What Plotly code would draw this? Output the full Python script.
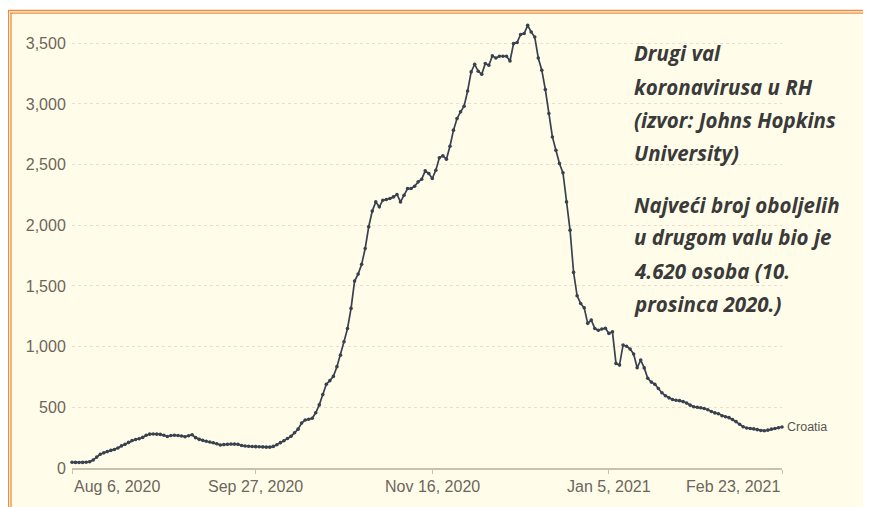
import pandas as pd
import plotly.graph_objects as go

# ---- data ----
start_date = "2020-08-06"
croatia_values = [
    47, 46, 45, 46, 48, 52, 66, 90, 113, 125,
    135, 145, 152, 165, 182, 195, 211, 226, 235, 241,
    252, 270, 279, 280, 279, 277, 270, 260, 268, 270,
    268, 264, 258, 266, 274, 250, 236, 228, 220, 214,
    208, 200, 190, 193, 196, 198, 197, 195, 186, 181,
    179, 177, 176, 175, 174, 172, 172, 178, 192, 209,
    225, 243, 262, 290, 320, 370, 395, 402, 410, 455,
    520, 605, 690, 720, 755, 835, 930, 1040, 1150, 1315,
    1540, 1598, 1678, 1809, 1988, 2117, 2193, 2152, 2207, 2213,
    2221, 2234, 2254, 2193, 2248, 2303, 2303, 2322, 2358, 2380,
    2449, 2427, 2386, 2454, 2556, 2572, 2545, 2652, 2784, 2880,
    2935, 2981, 3107, 3264, 3327, 3269, 3245, 3333, 3319, 3396,
    3379, 3393, 3393, 3393, 3354, 3497, 3506, 3572, 3580, 3648,
    3593, 3552, 3379, 3278, 3119, 2921, 2728, 2619, 2509, 2432,
    2193, 1960, 1612, 1419, 1356, 1320, 1192, 1219, 1150, 1135,
    1145, 1152, 1109, 1122, 862, 848, 1013, 1003, 980, 940,
    826, 889, 825, 740, 708, 690, 655, 620, 595, 578,
    565, 558, 555, 547, 535, 518, 505, 500, 496, 490,
    480, 466, 454, 447, 431, 422, 415, 400, 382, 360,
    340, 330, 326, 322, 316, 309, 307, 312, 320, 326,
    332, 338,
]
dates = pd.date_range(start_date, periods=len(croatia_values), freq="D")

x_tick_vals = ["2020-08-06", "2020-09-27", "2020-11-16", "2021-01-05", "2021-02-23"]
x_tick_text = ["Aug 6, 2020", "Sep 27, 2020", "Nov 16, 2020", "Jan 5, 2021", "Feb 23, 2021"]
y_tick_vals = [0, 500, 1000, 1500, 2000, 2500, 3000, 3500]
series_name = "Croatia"
note_lines_1 = ["Drugi val", "koronavirusa u RH", "(izvor: Johns Hopkins", "University)"]
note_lines_2 = ["Najveći broj oboljelih", "u drugom valu bio je", "4.620 osoba (10.", "prosinca 2020.)"]

# ---- layout geometry (pixels, figure sits at an 8px page offset) ----
OFF = 8
W, H = 871 - OFF, 507 - OFF
ML, MR, MT, MB = 72 - OFF, 89, 19 - OFF, 39
PW, PH = W - ML - MR, H - MT - MB
TICK_COLOR = "#6e655c"


def px_x(px):
    # px given in screenshot coordinates
    return (px - OFF - ML) / PW


def px_y(py):
    return (H - MB - (py - OFF)) / PH


fig = go.Figure()
fig.add_trace(go.Scatter(
    x=dates, y=croatia_values, mode="lines+markers", name=series_name,
    line=dict(color="#38414f", width=1.7),
    marker=dict(color="#38414f", size=3.6),
    cliponaxis=False, showlegend=False,
))

shapes = [
    dict(type="rect", xref="paper", yref="paper", x0=px_x(8), x1=px_x(863),
         y0=px_y(10), y1=px_y(507), fillcolor="#fffde9", line=dict(width=0), layer="below"),
    dict(type="line", xref="paper", yref="paper", x0=px_x(8), x1=px_x(863),
         y0=px_y(10.5), y1=px_y(10.5), line=dict(color="#f08a40", width=1.3), layer="below"),
    dict(type="line", xref="paper", yref="paper", x0=px_x(10), x1=px_x(863),
         y0=px_y(13.2), y1=px_y(13.2), line=dict(color="#f08a40", width=1.3), layer="below"),
    dict(type="line", xref="paper", yref="paper", x0=px_x(8.5), x1=px_x(8.5),
         y0=px_y(10), y1=px_y(507), line=dict(color="#f08a40", width=1.3), layer="below"),
    dict(type="line", xref="paper", yref="paper", x0=px_x(11), x1=px_x(11),
         y0=px_y(13), y1=px_y(507), line=dict(color="#f08a40", width=1.3), layer="below"),
]

annotations = []
centers_1 = [53, 87, 120, 153]
centers_2 = [205, 237, 271, 304]
for txt, cy in zip(note_lines_1 + note_lines_2, centers_1 + centers_2):
    annotations.append(dict(
        xref="paper", yref="paper", x=px_x(632), y=px_y(cy), xanchor="left", yanchor="middle",
        text=f"<b><i>{txt}</i></b>", showarrow=False,
        font=dict(family="Open Sans", size=20.5, color="#3a3a3a"),
    ))
annotations.append(dict(
    x=dates[-1], y=croatia_values[-1], xref="x", yref="y", xanchor="left", yanchor="middle",
    xshift=3, text=series_name, showarrow=False,
    font=dict(family="Liberation Sans, Arial", size=12.5, color="#555555"),
))
# x tick labels: first one starts at its tick, last one ends at its tick
anchors = ["left", "center", "center", "center", "right"]
for tv, tt, anc in zip(x_tick_vals, x_tick_text, anchors):
    annotations.append(dict(
        x=tv, xref="x", yref="paper", y=px_y(486), xanchor=anc, yanchor="middle",
        text=tt, showarrow=False,
        font=dict(family="Liberation Sans, Arial", size=16, color=TICK_COLOR),
    ))

fig.update_layout(
    width=W, height=H, autosize=False,
    margin=dict(l=ML, r=MR, t=MT, b=MB, pad=0),
    paper_bgcolor="#ffffff", plot_bgcolor="rgba(0,0,0,0)",
    font=dict(family="Liberation Sans, Arial", size=16, color=TICK_COLOR),
    shapes=shapes, annotations=annotations,
    xaxis=dict(
        range=["2020-08-06", "2021-02-23"], tickvals=x_tick_vals, showticklabels=False,
        showgrid=False, zeroline=False, showline=True, linecolor="#cbbfae", linewidth=2,
        ticks="outside", ticklen=4, tickcolor="#cbbfae", tickwidth=1, automargin=False,
    ),
    yaxis=dict(
        range=[0, 3700], tickvals=y_tick_vals, tickformat=",",
        showgrid=True, gridcolor="#f0dccf", griddash="3px,3px", gridwidth=1,
        zeroline=False, showline=False, ticks="outside", ticklen=2, tickcolor="rgba(0,0,0,0)",
        tickfont=dict(size=16, color=TICK_COLOR), automargin=False,
    ),
)

fig.write_html("out.html")
